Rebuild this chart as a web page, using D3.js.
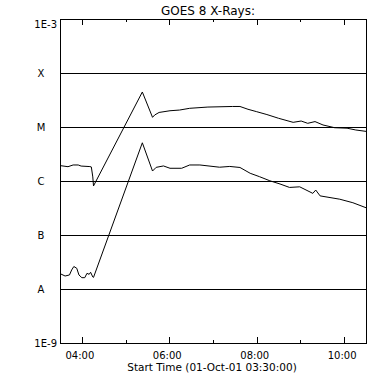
<!DOCTYPE html>
<html>
<head>
<meta charset="utf-8">
<script src="https://cdn.jsdelivr.net/npm/d3@7"></script>
<style>
  body { margin: 0; background: #fff; }
  text { font-family: "DejaVu Sans", sans-serif; fill: #000; }
</style>
</head>
<body>
<div id="chart"></div>
<script>
// GOES 8 long channel (1-8 A), times and flux in W/m^2
var longTimes = ["03:31", "03:41", "03:48", "03:55", "03:59", "04:11", "04:13", "04:15", "04:16",
  "05:23", "05:37", "05:40", "05:46", "06:01", "06:14", "06:28", "06:53", "07:27", "07:37",
  "07:48", "08:00", "08:14", "08:30", "08:50", "09:01", "09:10", "09:20", "09:31", "09:47",
  "10:04", "10:16", "10:30"];
var longFlux = [1.92e-6, 1.84e-6, 1.98e-6, 1.98e-6, 1.89e-6, 1.85e-6, 1.82e-6, 1.19e-6, 8.1e-7,
  4.45e-5, 1.51e-5, 1.67e-5, 1.86e-5, 2.0e-5, 2.06e-5, 2.22e-5, 2.34e-5, 2.4e-5, 2.4e-5,
  2.13e-5, 1.92e-5, 1.7e-5, 1.45e-5, 1.22e-5, 1.29e-5, 1.17e-5, 1.26e-5, 1.09e-5, 9.7e-6,
  9.5e-6, 8.8e-6, 8.3e-6];

// GOES 8 short channel (0.5-4 A)
var shortTimes = ["03:31", "03:37", "03:43", "03:46", "03:49", "03:53", "03:56", "04:00", "04:04",
  "04:07", "04:10", "04:12", "04:15", "04:16", "05:23", "05:37", "05:42", "05:52", "06:01",
  "06:17", "06:28", "06:42", "07:09", "07:23", "07:37", "07:51", "08:04", "08:18", "08:32",
  "08:45", "08:59", "09:17", "09:21", "09:27", "09:54", "10:12", "10:30"];
var shortFlux = [1.9e-8, 1.74e-8, 1.82e-8, 2.25e-8, 2.61e-8, 2.42e-8, 1.82e-8, 1.62e-8, 1.62e-8,
  1.95e-8, 1.87e-8, 2.04e-8, 1.67e-8, 1.64e-8, 5.1e-6, 1.53e-6, 1.79e-6, 1.9e-6, 1.72e-6,
  1.72e-6, 1.98e-6, 1.98e-6, 1.8e-6, 1.86e-6, 1.78e-6, 1.39e-6, 1.2e-6, 1.01e-6, 8.8e-7,
  7.6e-7, 7.8e-7, 5.9e-7, 6.8e-7, 5.3e-7, 4.6e-7, 3.96e-7, 3.2e-7];

// flare class levels
var classNames = ["A", "B", "C", "M", "X"];
var classLevels = [1e-8, 1e-7, 1e-6, 1e-5, 1e-4];

var majorTicks = ["04:00", "06:00", "08:00", "10:00"];
var minorTicks = ["05:00", "07:00", "09:00"];

var svgWidth = 384;
var svgHeight = 384;

var margin = { top: 19, right: 18, bottom: 41, left: 60 };
var width = svgWidth - margin.left - margin.right;
var height = svgHeight - margin.top - margin.bottom;

var parseTime = function(s) { return new Date("2001-10-01T" + s + ":00Z"); };

var svg = d3.select("#chart")
  .append("svg")
  .attr("width", svgWidth)
  .attr("height", svgHeight);

var chartGroup = svg.append("g")
  .attr("transform", `translate(${margin.left}, ${margin.top})`);

var xScale = d3.scaleUtc()
  .domain([parseTime("03:30"), parseTime("10:30")])
  .range([0, width]);

var yScale = d3.scaleLog()
  .domain([1e-9, 1e-3])
  .range([height, 0]);

// class lines
chartGroup.selectAll(".classline")
  .data(classLevels)
  .enter()
  .append("line")
  .attr("x1", 0)
  .attr("x2", width)
  .attr("y1", d => Math.round(yScale(d)) + 0.5)
  .attr("y2", d => Math.round(yScale(d)) + 0.5)
  .attr("stroke", "#000")
  .attr("shape-rendering", "crispEdges");

// frame
chartGroup.append("rect")
  .attr("x", 0.5)
  .attr("y", 0.5)
  .attr("width", width)
  .attr("height", height)
  .attr("fill", "none")
  .attr("stroke", "#000")
  .attr("shape-rendering", "crispEdges");

// ticks top and bottom
function drawTicks(list, len) {
  list.forEach(function(t) {
    var x = Math.round(xScale(parseTime(t))) + 0.5;
    chartGroup.append("line")
      .attr("x1", x).attr("x2", x)
      .attr("y1", height).attr("y2", height - len)
      .attr("stroke", "#000").attr("shape-rendering", "crispEdges");
    chartGroup.append("line")
      .attr("x1", x).attr("x2", x)
      .attr("y1", 0).attr("y2", len)
      .attr("stroke", "#000").attr("shape-rendering", "crispEdges");
  });
}
drawTicks(majorTicks, 6);
drawTicks(minorTicks, 3);

var fmt = d3.utcFormat("%H:%M");
chartGroup.selectAll(".ticklabel")
  .data(majorTicks)
  .enter()
  .append("text")
  .attr("x", d => xScale(parseTime(d)) - 2)
  .attr("y", height + 16)
  .attr("text-anchor", "middle")
  .style("font-size", "10px")
  .text(d => fmt(parseTime(d)));

// y labels
chartGroup.selectAll(".classlabel")
  .data(classLevels)
  .enter()
  .append("text")
  .attr("x", -19)
  .attr("y", d => yScale(d) + 4)
  .attr("text-anchor", "middle")
  .style("font-size", "10px")
  .text((d, i) => classNames[i]);

chartGroup.append("text")
  .attr("x", -3)
  .attr("y", 9)
  .attr("text-anchor", "end")
  .style("font-size", "10px")
  .text("1E-3");

chartGroup.append("text")
  .attr("x", -3)
  .attr("y", height + 4)
  .attr("text-anchor", "end")
  .style("font-size", "10px")
  .text("1E-9");

// curves
var line = d3.line()
  .x(d => xScale(d.t))
  .y(d => yScale(d.v));

var longData = longTimes.map((t, i) => ({ t: parseTime(t), v: longFlux[i] }));
var shortData = shortTimes.map((t, i) => ({ t: parseTime(t), v: shortFlux[i] }));

[longData, shortData].forEach(function(data) {
  chartGroup.append("path")
    .datum(data)
    .attr("d", line)
    .attr("fill", "none")
    .attr("stroke", "#000")
    .attr("stroke-width", 1);
});

// titles
svg.append("text")
  .attr("x", 208)
  .attr("y", 15)
  .attr("text-anchor", "middle")
  .style("font-size", "12px")
  .text("GOES 8 X-Rays:");

svg.append("text")
  .attr("x", 212)
  .attr("y", 371)
  .attr("text-anchor", "middle")
  .style("font-size", "10.5px")
  .text("Start Time (01-Oct-01 03:30:00)");
</script>
</body>
</html>
